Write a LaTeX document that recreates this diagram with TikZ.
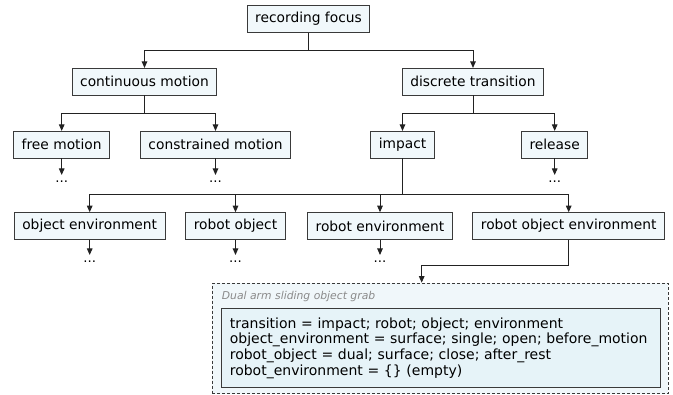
\documentclass[tikz,border=0pt]{standalone}
\usepackage{fontspec}
\setmainfont{DejaVu Sans}
\usetikzlibrary{arrows.meta}
\definecolor{boxfill}{HTML}{F1F8FB}
\definecolor{innerfill}{HTML}{E6F3F8}
\definecolor{outerfill}{HTML}{F0F7FA}
\definecolor{boxline}{HTML}{3A3A3A}
\definecolor{linecol}{HTML}{222222}
\definecolor{labelgray}{HTML}{8A8A8A}
\tikzset{
  catbox/.style={draw=boxline, fill=boxfill, line width=0.9pt, minimum height=26.6pt,
    inner xsep=8pt, inner ysep=0pt, font=\fontsize{13.8}{16}\selectfont},
  dotsnode/.style={inner xsep=0pt, inner ysep=5.5pt, anchor=north, font=\fontsize{13.3}{16}\selectfont},
  arr/.style={draw=linecol, line width=1pt, -{Triangle[length=6.5pt,width=5.5pt]}},
  conn/.style={draw=linecol, line width=1pt},
}
\begin{document}
\begin{tikzpicture}[x=1pt, y=-1pt]
\useasboundingbox (0,0) rectangle (673,395);
% level 1
\node[catbox] (root) at (308.5,19) {recording focus};
% level 2
\node[catbox] (cont) at (144.5,81.7) {continuous motion};
\node[catbox] (disc) at (473,81.7) {discrete transition};
% level 3
\node[catbox] (free) at (61.7,144.7) {free motion};
\node[catbox] (constr) at (215.5,144.7) {constrained motion};
\node[catbox] (impact) at (402.5,144.7) {impact};
\node[catbox] (release) at (554.7,144.7) {release};
% level 4
\node[catbox] (objenv) at (89.7,226) {object environment};
\node[catbox] (robobj) at (235.5,226) {robot object};
\node[catbox] (robenv) at (380,226) {robot environment};
\node[catbox] (robobjenv) at (568.7,226) {robot object environment};
% ellipses
\node[dotsnode] (d1) at (61.7,175) {...};
\node[dotsnode] (d2) at (215.5,175) {...};
\node[dotsnode] (d3) at (554.7,175) {...};
\node[dotsnode] (d4) at (89.7,255) {...};
\node[dotsnode] (d5) at (235.5,255) {...};
\node[dotsnode] (d6) at (380,255) {...};
% bus coordinates
\coordinate (bus1) at (308.5,50.7);
\coordinate (bus2a) at (144.5,113.3);
\coordinate (bus2b) at (473,113.3);
\coordinate (bus3) at (402.5,194.5);
\coordinate (bend) at (421.7,265.5);
% grab container
\node[draw=boxline, densely dashed, line width=0.8pt, fill=outerfill, anchor=north west,
      minimum width=456pt, minimum height=110.5pt, inner sep=0pt] (grab) at (211.7,282.7) {};
\node[anchor=west, inner sep=0pt, text=labelgray, font=\fontsize{10.8}{12}\selectfont\itshape]
  (grablabel) at (221.7,296.5) {Dual arm sliding object grab};
\node[draw=boxline, fill=innerfill, line width=0.9pt, anchor=north west, minimum width=439.3pt,
      minimum height=78.4pt, text width=422pt, inner xsep=8.6pt, inner ysep=0pt, align=left,
      font=\fontsize{14}{15.7}\selectfont] (spec) at (220.7,308.3)
  {transition = impact; robot; object; environment\\
   object\_environment = surface; single; open; before\_motion\\
   robot\_object = dual; surface; close; after\_rest\\
   robot\_environment = \{\} (empty)};
% connectors
\draw[conn] (root.south) -- (bus1);
\draw[arr] (bus1) -| (cont.north);
\draw[arr] (bus1) -| (disc.north);
\draw[conn] (cont.south) -- (bus2a);
\draw[arr] (bus2a) -| (free.north);
\draw[arr] (bus2a) -| (constr.north);
\draw[conn] (disc.south) -- (bus2b);
\draw[arr] (bus2b) -| (impact.north);
\draw[arr] (bus2b) -| (release.north);
\draw[conn] (impact.south) -- (bus3);
\draw[arr] (bus3) -| (objenv.north);
\draw[arr] (bus3) -| (robobj.north);
\draw[arr] (bus3) -| (robenv.north);
\draw[arr] (bus3) -| (robobjenv.north);
\draw[arr] (free.south) -- (d1.north);
\draw[arr] (constr.south) -- (d2.north);
\draw[arr] (release.south) -- (d3.north);
\draw[arr] (objenv.south) -- (d4.north);
\draw[arr] (robobj.south) -- (d5.north);
\draw[arr] (robenv.south) -- (d6.north);
\draw[arr] (robobjenv.south) |- (bend) -- (bend |- grab.north);
\end{tikzpicture}
\end{document}
